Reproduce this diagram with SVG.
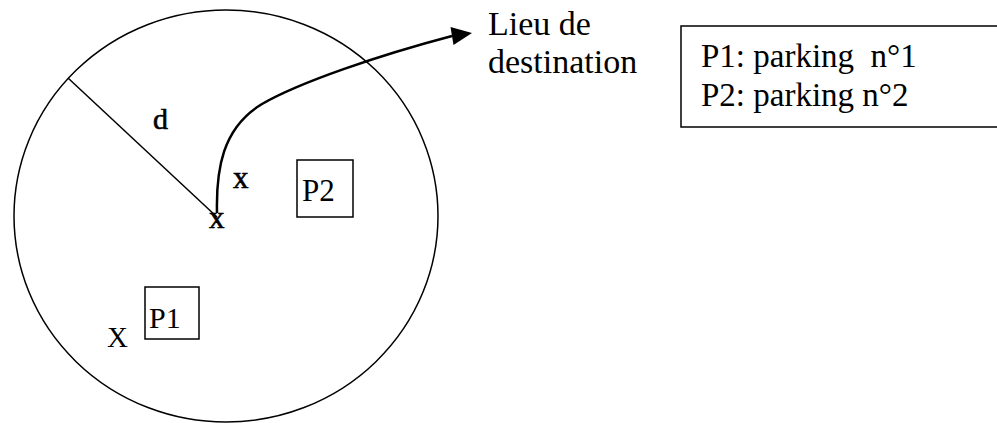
<svg xmlns="http://www.w3.org/2000/svg" width="997" height="423" viewBox="0 0 997 423">
<style>
  .t { font-family: "Liberation Serif", "Times New Roman", serif; fill: #000; }
  .heavy { stroke: #000; stroke-width: 0.6; }
  .line { fill: none; stroke: #000; stroke-width: 1.5; }
  .box { fill: #fff; stroke: #000; stroke-width: 1.5; }
</style>
<rect width="997" height="423" fill="#fff"/>
<g id="zone">
  <ellipse class="line" cx="226" cy="216" rx="212" ry="206"/>
</g>
<g id="radius-label">
  <text class="t heavy" x="153" y="129" font-size="30">d</text>
</g>
<g id="center">
  <text class="t heavy" x="209" y="228" font-size="31">x</text>
</g>
<g id="point">
  <text class="t heavy" x="233" y="188" font-size="31">x</text>
</g>
<g id="P2">
  <rect class="box" x="297" y="160" width="56" height="57"/>
  <text class="t" x="302" y="201" font-size="31">P2</text>
</g>
<g id="P1">
  <rect class="box" x="145" y="287" width="54" height="52"/>
  <text class="t" x="149" y="328" font-size="30">P1</text>
</g>
<g id="X">
  <text class="t" x="107" y="347" font-size="29">X</text>
</g>
<g id="destination">
  <text class="t" x="488" y="35" font-size="34">Lieu de</text>
  <text class="t" x="488" y="73" font-size="34">destination</text>
</g>
<g id="legend">
  <rect class="box" x="681" y="26" width="330" height="101"/>
  <text class="t" x="701" y="67" font-size="33" xml:space="preserve">P1: parking  n°1</text>
  <text class="t" x="701" y="106" font-size="33">P2: parking n°2</text>
</g>
<g id="connectors">
  <line class="line" x1="68" y1="78" x2="217" y2="217"/>
  <path d="M217,213 C216,170 222,128 262,104 C300,82 380,55 452,36" fill="none" stroke="#000" stroke-width="2.5"/>
  <polygon points="472,33 450.5,27 453.5,45" fill="#000"/>
</g>
</svg>
